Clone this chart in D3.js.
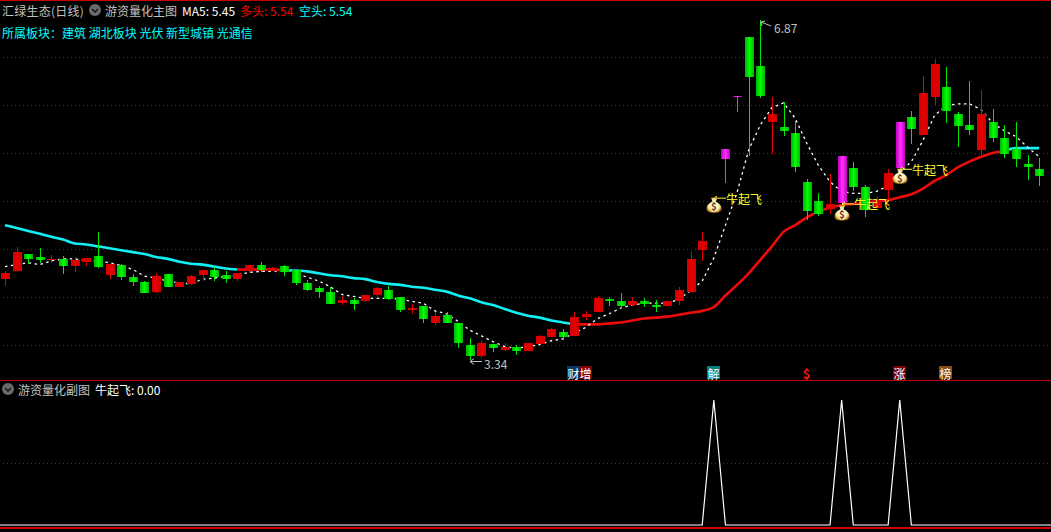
<!DOCTYPE html>
<html>
<head>
<meta charset="utf-8">
<script src="https://cdn.jsdelivr.net/npm/d3@7"></script>
<style>
  html, body { margin: 0; background: #000; overflow: hidden; }
  text { font-family: "Noto Sans CJK SC", "DejaVu Sans", sans-serif; font-size: 12px; }
</style>
</head>
<body>
<div id="chart"></div>
<script>
const width = 1051;
const height = 532;

// candles, index 61 is blank in the picture
const opens = [4.18,4.26,4.44,4.41,4.38,4.39,4.32,4.36,4.42,4.22,4.33,4.20,4.15,4.05,4.23,4.10,4.13,4.22,4.27,4.22,
  4.18,4.26,4.33,4.26,4.32,4.27,4.14,4.09,4.05,3.93,3.96,3.95,4.01,4.07,3.99,3.86,3.90,3.72,3.81,3.72,
  3.50,3.38,3.51,3.44,3.48,3.43,3.51,3.58,3.63,3.59,3.79,3.84,3.97,3.95,3.91,3.95,3.91,3.90,3.95,4.05,
  4.48,null,5.53,6.08,6.69,6.39,5.81,5.76,5.70,5.19,4.99,4.91,5.46,5.33,5.14,4.92,5.11,5.81,5.86,5.68,
  6.07,6.17,5.89,5.78,5.52,5.81,5.65,5.53,5.38,5.32];
const highs = [4.26,4.51,4.44,4.50,4.43,4.42,4.41,4.40,4.67,4.34,4.34,4.23,4.16,4.24,4.23,4.15,4.22,4.27,4.31,4.26,
  4.24,4.33,4.36,4.31,4.33,4.27,4.17,4.11,4.10,4.00,3.98,4.01,4.10,4.11,3.99,3.92,3.90,3.84,3.84,3.72,
  3.57,3.55,3.51,3.52,3.50,3.52,3.60,3.67,3.66,3.84,3.85,4.00,3.99,4.04,3.99,3.98,3.96,3.95,4.10,4.47,
  4.67,null,5.53,6.08,6.69,6.87,6.07,6.02,5.82,5.22,5.07,5.27,5.46,5.40,5.16,5.04,5.32,5.81,5.93,6.29,
  6.47,6.38,5.91,6.24,6.14,5.95,5.78,5.81,5.47,5.44];
const lows = [4.11,4.25,4.34,4.35,4.35,4.23,4.25,4.32,4.29,4.18,4.17,4.11,4.04,4.04,4.10,4.10,4.12,4.16,4.16,4.14,
  4.16,4.24,4.25,4.26,4.21,4.12,4.06,3.98,3.92,3.91,3.86,3.94,3.98,3.96,3.84,3.82,3.72,3.70,3.72,3.46,
  3.34,3.36,3.42,3.43,3.39,3.43,3.51,3.58,3.55,3.59,3.76,3.84,3.90,3.88,3.90,3.89,3.84,3.90,3.91,4.05,
  4.37,null,5.18,5.91,5.46,6.06,5.48,5.67,5.29,4.79,4.83,4.86,4.97,5.09,4.82,4.92,5.00,5.33,5.58,5.68,
  5.99,5.80,5.55,5.68,5.46,5.60,5.44,5.34,5.21,5.15];
const closes = [4.24,4.46,4.39,4.38,4.39,4.32,4.38,4.40,4.31,4.34,4.20,4.15,4.04,4.21,4.10,4.15,4.21,4.27,4.20,4.18,
  4.24,4.33,4.27,4.29,4.25,4.14,4.07,4.05,3.92,3.96,3.92,4.01,4.09,3.97,3.86,3.88,3.77,3.80,3.72,3.52,
  3.38,3.52,3.46,3.48,3.43,3.52,3.59,3.66,3.58,3.79,3.82,3.98,3.95,3.90,3.95,3.92,3.89,3.95,4.07,4.39,
  4.58,null,5.43,6.07,6.28,6.08,5.89,5.72,5.34,4.89,4.86,4.96,4.97,5.14,4.90,5.00,5.28,5.33,5.74,6.11,
  6.41,5.93,5.77,5.73,5.89,5.65,5.48,5.43,5.34,5.25];
const magentaBars = [62, 63, 72, 77];

const ma5 = [4.31,4.33,4.35,4.33,4.37,4.39,4.39,4.37,4.37,4.35,4.32,4.28,4.21,4.19,4.16,4.14,4.13,4.18,4.19,4.21,
  4.22,4.25,4.26,4.26,4.27,4.24,4.20,4.16,4.10,4.02,4.00,3.98,3.98,3.98,3.97,3.95,3.93,3.85,3.82,3.74,
  3.65,3.59,3.53,3.48,3.46,3.48,3.50,3.54,3.56,3.62,3.68,3.77,3.82,3.88,3.91,3.93,3.93,3.93,3.97,4.06,
  4.16,4.40,4.74,5.08,5.52,5.78,5.96,6.01,5.85,5.59,5.36,5.19,5.09,5.07,5.07,5.09,5.15,5.29,5.40,5.62,
  5.88,5.98,6.00,6.00,5.94,5.80,5.72,5.66,5.55,5.45];
const trend = [4.74,4.71,4.68,4.65,4.62,4.59,4.55,4.54,4.52,4.50,4.48,4.46,4.44,4.41,4.39,4.36,4.34,4.33,4.31,4.29,
  4.28,4.28,4.28,4.28,4.27,4.27,4.26,4.24,4.22,4.21,4.19,4.18,4.15,4.13,4.12,4.10,4.09,4.07,4.05,4.01,
  3.98,3.94,3.91,3.87,3.83,3.80,3.78,3.75,3.73,3.71,3.71,3.71,3.72,3.73,3.75,3.77,3.78,3.79,3.81,3.83,
  3.85,3.89,4.01,4.12,4.24,4.38,4.52,4.67,4.74,4.82,4.88,4.92,4.95,4.96,4.97,4.99,5.00,5.03,5.06,5.12,
  5.20,5.26,5.34,5.40,5.45,5.49,5.51,5.54,5.54,5.54];
const trendUpSpans = [[20, 24], [49, 86]];
const trendDownSpans = [[0, 20], [24, 49], [86, 89]];

// sub chart signal, 1 on the three flagged days
const signalDays = [61, 72, 77];
const signalLabel = "牛起飞";
const signalBagPrice = [4.95, 4.87, 5.25];
const signalTextPrice = [5.02, 4.96, 5.32];

const markerDays = [49, 50, 61, 69, 77, 81];
const markerTexts = ["财", "增", "解", "$", "涨", "榜"];
const markerColors = ["#0b3a66", "#800000", "#008080", "none", "#7d0000", "#8a4a12"];

const blocks = ["建筑", "湖北板块", "光伏", "新型城镇", "光通信"];

const svg = d3.select("#chart")
  .append("svg")
  .attr("width", width)
  .attr("height", height)
  .style("display", "block");

const xScale = d3.scaleBand()
  .domain(d3.range(closes.length))
  .range([-0.81, 1045]);
const cx = i => Math.round(xScale(i) + xScale.bandwidth() / 2);

const yScale = d3.scaleLinear()
  .domain([3.34, 6.87])
  .range([360, 20]);

const subScale = d3.scaleLinear()
  .domain([0, 1])
  .range([525, 400]);

// grid
const grid = svg.append("g")
  .attr("stroke", "#8a1010")
  .attr("stroke-dasharray", "1,3")
  .attr("shape-rendering", "crispEdges");
[57, 105, 153, 201, 249, 297, 345, Math.round(subScale(0.5))].forEach(y => {
  grid.append("line").attr("x1", 3).attr("x2", width).attr("y1", y + 0.5).attr("y2", y + 0.5);
});

// frame lines
const frame = svg.append("g").attr("fill", "#c80000").attr("shape-rendering", "crispEdges");
[[0, 1], [380, 1], [527, 2]].forEach(d => {
  frame.append("rect").attr("x", 0).attr("y", d[0]).attr("width", width).attr("height", d[1]);
});

// trend line, red while bullish and cyan otherwise
const trendLine = d3.line()
  .x(i => xScale(i) + xScale.bandwidth() / 2)
  .y(i => yScale(trend[i]))
  .curve(d3.curveMonotoneX);
const addSpans = (spans, color) => spans.forEach(s => {
  svg.append("path")
    .attr("d", trendLine(d3.range(s[0], s[1] + 1)))
    .attr("fill", "none")
    .attr("stroke", color)
    .attr("stroke-linejoin", "round")
    .attr("stroke-width", 2.6);
});
addSpans(trendDownSpans, "#10f0f5");
addSpans(trendUpSpans, "#f00a0a");

// ma5
svg.append("path")
  .attr("d", d3.line()
    .x((d, i) => xScale(i) + xScale.bandwidth() / 2)
    .y(d => yScale(d))(ma5))
  .attr("fill", "none")
  .attr("stroke", "#fff")
  .attr("stroke-width", 1.3)
  .attr("stroke-dasharray", "2.5,3.5");

// candles
const defs = svg.append("defs");
const addGrad = (id, edge, mid) => {
  const g = defs.append("linearGradient").attr("id", id);
  g.append("stop").attr("offset", "0%").attr("stop-color", edge);
  g.append("stop").attr("offset", "50%").attr("stop-color", mid);
  g.append("stop").attr("offset", "100%").attr("stop-color", edge);
};
addGrad("greenBody", "#00b400", "#00ff00");
addGrad("redBody", "#d00000", "#e40000");
addGrad("magentaBody", "#c000c0", "#ff30ff");

const days = d3.range(closes.length).filter(i => closes[i] !== null);
const isMagenta = i => magentaBars.includes(i);
const wickColor = i => isMagenta(i) ? "#ff20ff" : closes[i] >= opens[i] ? "#e00000" : "#00e800";
const bodyFill = i => isMagenta(i) ? "url(#magentaBody)" : closes[i] >= opens[i] ? "url(#redBody)" : "url(#greenBody)";

const candles = svg.append("g").attr("shape-rendering", "crispEdges");
candles.selectAll(".wick")
  .data(days)
  .enter().append("rect")
  .attr("class", "wick")
  .attr("x", i => cx(i))
  .attr("y", i => Math.round(yScale(highs[i])))
  .attr("width", 1)
  .attr("height", i => Math.max(1, Math.round(yScale(lows[i])) - Math.round(yScale(highs[i]))))
  .attr("fill", wickColor);
candles.selectAll(".body")
  .data(days)
  .enter().append("rect")
  .attr("class", "body")
  .attr("x", i => cx(i) - 4)
  .attr("y", i => Math.round(yScale(Math.max(opens[i], closes[i]))))
  .attr("width", 9)
  .attr("height", i => Math.max(1, Math.round(yScale(Math.min(opens[i], closes[i]))) - Math.round(yScale(Math.max(opens[i], closes[i])))))
  .attr("fill", bodyFill);

// high and low labels
const extremes = svg.append("g").attr("fill", "#c0c0c0").attr("stroke", "none");
const hiX = cx(highs.indexOf(d3.max(highs)));
const hiY = yScale(d3.max(highs));
const loX = cx(lows.indexOf(d3.min(lows)));
const loY = yScale(d3.min(lows));
svg.append("path")
  .attr("d", `M${hiX + 11},${hiY + 6} L${hiX + 1},${hiY + 2} M${hiX + 1},${hiY + 2} l4,-1 M${hiX + 1},${hiY + 2} l1,4`)
  .attr("stroke", "#c0c0c0").attr("fill", "none");
extremes.append("text")
  .attr("x", hiX + 14).attr("y", hiY + 7).attr("dominant-baseline", "central").text(d3.max(highs).toFixed(2));
svg.append("path")
  .attr("d", `M${loX + 12},${loY + 1.5} H${loX} M${loX},${loY + 1.5} l4,-3 M${loX},${loY + 1.5} l4,3`)
  .attr("stroke", "#c0c0c0").attr("fill", "none");
extremes.append("text")
  .attr("x", loX + 14).attr("y", loY + 3).attr("dominant-baseline", "central").text(d3.min(lows).toFixed(2));

// money bags and labels
const bagGrad = defs.append("radialGradient").attr("id", "bagFill");
bagGrad.append("stop").attr("offset", "60%").attr("stop-color", "#fff4c8");
bagGrad.append("stop").attr("offset", "90%").attr("stop-color", "#ecc468");
bagGrad.append("stop").attr("offset", "100%").attr("stop-color", "#a87820");

signalDays.forEach((day, k) => {
  const x = cx(day);
  const bagY = yScale(signalBagPrice[k]);
  const textY = yScale(signalTextPrice[k]);
  svg.append("path")
    .attr("d", `M${x},${textY} H${x + 12} M${x},${textY} l3,-2 M${x},${textY} l3,2`)
    .attr("stroke", "#ffff30")
    .attr("fill", "none");
  svg.append("text")
    .attr("x", x + 12).attr("y", textY)
    .attr("dominant-baseline", "central")
    .attr("fill", "#ffff30")
    .text(signalLabel);
  const bag = svg.append("g").attr("transform", `translate(${x},${bagY})`);
  bag.append("path")
    .attr("d", "M-3,-7.5 L3,-7.5 L1.5,-3.5 C5.5,-2 7.5,1 7.5,3.5 C7.5,6.8 4,7.8 0,7.8 C-4,7.8 -7.5,6.8 -7.5,3.5 C-7.5,1 -5.5,-2 -1.5,-3.5 Z")
    .attr("fill", "url(#bagFill)");
  bag.append("text")
    .attr("y", 2)
    .attr("text-anchor", "middle")
    .attr("dominant-baseline", "central")
    .attr("fill", "#6a2c08")
    .style("font-size", "9px")
    .style("font-weight", "bold")
    .text("$");
});

// event markers
markerDays.forEach((day, k) => {
  const x = cx(day);
  const plain = markerColors[k] === "none";
  if (!plain) {
    svg.append("rect")
      .attr("x", x - 7).attr("y", 366)
      .attr("width", 13).attr("height", 13)
      .attr("fill", markerColors[k]);
  }
  svg.append("text")
    .attr("x", x - 0.5).attr("y", 373)
    .attr("text-anchor", "middle")
    .attr("dominant-baseline", "central")
    .attr("fill", plain ? "#f01010" : "#fff")
    .style("font-weight", plain ? "bold" : "normal")
    .style("font-size", plain ? "13px" : "12px")
    .text(markerTexts[k]);
});

// sub chart line
const subValues = closes.map((d, i) => signalDays.includes(i) ? 1 : 0);
svg.append("path")
  .attr("d", d3.line()
    .x(d => d[0])
    .y(d => subScale(d[1]))([[0, 0]].concat(subValues.map((d, i) => [xScale(i) + xScale.bandwidth() / 2, d]), [[width, 0]])))
  .attr("fill", "none")
  .attr("stroke", "#fff")
  .attr("stroke-width", 1.2);

// headers
const addText = (x, y, t, color) => svg.append("text")
  .attr("x", x).attr("y", y)
  .attr("dominant-baseline", "central")
  .attr("fill", color)
  .text(t);
const addIcon = (x, y) => {
  svg.append("circle").attr("cx", x).attr("cy", y).attr("r", 6).attr("fill", "#6a6a6a");
  svg.append("path")
    .attr("d", `M${x - 3},${y - 1} L${x},${y + 2} L${x + 3},${y - 1}`)
    .attr("stroke", "#111").attr("stroke-width", 1.4).attr("fill", "none");
};

addText(2, 10, "汇绿生态(日线)", "#c0c0c0").style("letter-spacing", "0.25px");
addIcon(95, 10);
addText(105, 10, "游资量化主图", "#c0c0c0");
addText(182, 10, "MA5: " + ma5[ma5.length - 1].toFixed(2), "#ffffff");
addText(240, 10, "多头: " + trend[trend.length - 1].toFixed(2), "#ff0000");
addText(299, 10, "空头: " + trend[trend.length - 1].toFixed(2), "#00ffff");
addText(2, 32, "所属板块：" + blocks.join(" "), "#00ffff");

addIcon(8, 389);
addText(18, 389, "游资量化副图", "#c0c0c0");
addText(95, 389, signalLabel + ": 0.00", "#ffffff");
</script>
</body>
</html>
